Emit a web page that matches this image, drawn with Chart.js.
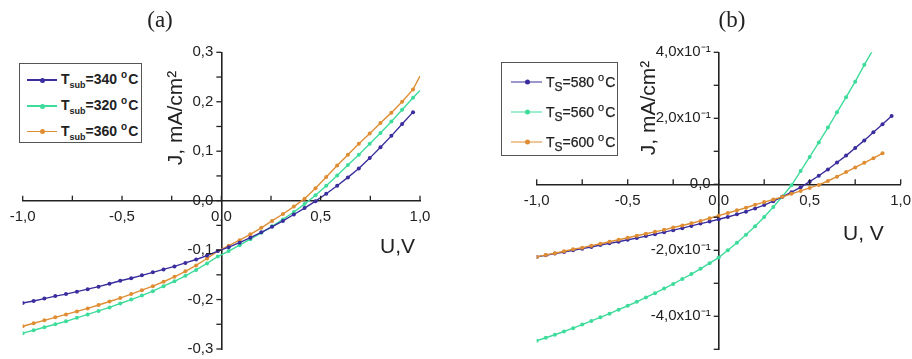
<!DOCTYPE html>
<html>
<head>
<meta charset="utf-8">
<script src="https://cdn.jsdelivr.net/npm/chart.js@4.4.0/dist/chart.umd.min.js"></script>
<style>
  html, body { margin: 0; padding: 0; background: #fff; }
  body { width: 912px; height: 359px; position: relative; overflow: hidden;
         font-family: 'Liberation Sans', Arial, sans-serif; color: #222; }
  canvas { position: absolute; top: 0; }
  #chartA { left: 0; }
  #chartB { left: 456px; }
  .title { position: absolute; top: 8px; font-family: 'Liberation Serif', 'Times New Roman', serif;
           font-size: 23px; line-height: 1; transform: translateX(-50%); }
  .ylabel { position: absolute; font-size: 21px; line-height: 1; white-space: nowrap;
            transform: translate(-50%, -50%) rotate(-90deg); }
  .xlabel { position: absolute; font-size: 21px; line-height: 1; white-space: nowrap; }
  .legend { position: absolute; border: 1px solid #555; background: #fff; }
  .row { position: absolute; display: flex; align-items: center; transform: translateY(-50%);
         white-space: nowrap; line-height: 1; }
  .sw { position: relative; height: 1.5px; margin-right: 4px; }
  .sw i { position: absolute; top: -1.75px; width: 5px; height: 5px; border-radius: 50%; }
  #legA .row { font-size: 14px; font-weight: bold; }
  #legA sub { font-size: 9px; vertical-align: -4px; }
  #legA sup { font-size: 10px; vertical-align: 6px; margin-right: 1px; }
  #legB .row { font-size: 14px; -webkit-text-stroke: 0.25px #222; }
  #legB sub { font-size: 12px; vertical-align: -4px; }
  #legB sup { font-size: 11px; vertical-align: 6px; margin-right: 1px; }
</style>
</head>
<body>
<canvas id="chartA" width="456" height="359"></canvas>
<canvas id="chartB" width="456" height="359"></canvas>

<div class="title" style="left:160px">(a)</div>
<div class="title" style="left:732px">(b)</div>
<div class="ylabel" style="left:174px; top:118px">J, mA/cm²</div>
<div class="ylabel" style="left:647px; top:108px">J, mA/cm²</div>
<div class="xlabel" style="left:380px; top:235px">U,V</div>
<div class="xlabel" style="left:843px; top:222px">U, V</div>

<div class="legend" id="legA" style="left:19px; top:63px; width:121px; height:78px"></div>
<div class="legend" id="legB" style="left:501px; top:62px; width:115px; height:92px"></div>

<script>
// Colours
const BLUE = '#3a2e9e';
const GREEN = '#3edc9b';
const ORANGE = '#df8d33';

// Panel (a): voltage, V
const uA = [-1.000, -0.945, -0.891, -0.836, -0.782, -0.727, -0.673, -0.618, -0.563, -0.509,
            -0.454, -0.400, -0.345, -0.291, -0.236, -0.181, -0.127, -0.072, -0.018, 0.037,
            0.092, 0.146, 0.201, 0.255, 0.310, 0.365, 0.419, 0.474, 0.528, 0.583,
            0.637, 0.692, 0.747, 0.801, 0.856, 0.910, 0.965, 1.000];

// Panel (a): current density, mA/cm2
const jA340 = [-0.207, -0.203, -0.198, -0.193, -0.189, -0.184, -0.179, -0.174, -0.168, -0.162,
               -0.157, -0.151, -0.145, -0.139, -0.133, -0.126, -0.119, -0.111, -0.102, -0.094,
               -0.085, -0.075, -0.064, -0.053, -0.041, -0.028, -0.015, -0.001, 0.014, 0.030,
               0.047, 0.065, 0.086, 0.108, 0.131, 0.155, 0.179];
const jA320 = [-0.268, -0.262, -0.256, -0.250, -0.244, -0.237, -0.230, -0.223, -0.216, -0.208,
               -0.200, -0.192, -0.183, -0.173, -0.163, -0.152, -0.140, -0.127, -0.113, -0.102,
               -0.090, -0.078, -0.065, -0.052, -0.038, -0.023, -0.007, 0.011, 0.030, 0.051,
               0.072, 0.093, 0.115, 0.137, 0.160, 0.184, 0.208, 0.223];
const jA360 = [-0.254, -0.248, -0.242, -0.236, -0.230, -0.224, -0.218, -0.211, -0.204, -0.197,
               -0.189, -0.181, -0.173, -0.164, -0.154, -0.143, -0.131, -0.117, -0.102, -0.091,
               -0.080, -0.068, -0.055, -0.041, -0.027, -0.012, 0.004, 0.025, 0.048, 0.071,
               0.093, 0.115, 0.136, 0.157, 0.178, 0.200, 0.225, 0.252];
const namesA = ['T<sub>sub</sub>=340 <sup>o</sup>C', 'T<sub>sub</sub>=320 <sup>o</sup>C', 'T<sub>sub</sub>=360 <sup>o</sup>C'];

// Panel (b): voltage, V
const uB = [-1.00, -0.95, -0.90, -0.85, -0.80, -0.75, -0.70, -0.65, -0.60, -0.55,
            -0.50, -0.45, -0.40, -0.35, -0.30, -0.25, -0.20, -0.15, -0.10, -0.05,
            0.00, 0.05, 0.10, 0.15, 0.20, 0.25, 0.30, 0.35, 0.40, 0.45,
            0.50, 0.55, 0.60, 0.65, 0.70, 0.75, 0.80, 0.85, 0.90, 0.95];

// Panel (b): current density, mA/cm2
const jB580 = [-0.220, -0.215, -0.210, -0.205, -0.200, -0.195, -0.190, -0.184, -0.179, -0.174,
               -0.168, -0.163, -0.157, -0.151, -0.145, -0.139, -0.133, -0.126, -0.119, -0.113,
               -0.106, -0.099, -0.091, -0.083, -0.073, -0.063, -0.051, -0.038, -0.024, -0.009,
               0.008, 0.026, 0.045, 0.066, 0.087, 0.110, 0.133, 0.158, 0.182, 0.207];
const jB560 = [-0.474, -0.465, -0.456, -0.446, -0.436, -0.425, -0.414, -0.403, -0.392, -0.380,
               -0.368, -0.356, -0.343, -0.330, -0.316, -0.302, -0.287, -0.272, -0.256, -0.239,
               -0.222, -0.200, -0.177, -0.153, -0.127, -0.099, -0.069, -0.037, -0.003, 0.040,
               0.083, 0.127, 0.172, 0.218, 0.264, 0.311, 0.362, 0.410];
const jB600 = [-0.220, -0.214, -0.209, -0.203, -0.197, -0.192, -0.186, -0.180, -0.174, -0.168,
               -0.162, -0.156, -0.150, -0.144, -0.138, -0.131, -0.125, -0.118, -0.111, -0.103,
               -0.095, -0.087, -0.079, -0.071, -0.062, -0.054, -0.046, -0.038, -0.029, -0.020,
               -0.011, -0.002, 0.010, 0.023, 0.037, 0.051, 0.065, 0.079, 0.094];
const namesB = ['T<sub>S</sub>=580 <sup>o</sup>C', 'T<sub>S</sub>=560 <sup>o</sup>C', 'T<sub>S</sub>=600 <sup>o</sup>C'];

// Helpers
const pts = (us, js) => js.map((j, i) => ({ x: us[i], y: j }));
const onStep = (v, step) => Math.abs(v / step - Math.round(v / step)) < 1e-6;
const comma = (v, d) => (Math.abs(v) < 1e-9 ? 0 : v).toFixed(d).replace('.', ',');
const fmtX = v => onStep(v, 0.5) ? comma(v, 1) : '';

function series(data, color, order, hideLast) {
  return {
    data: data,
    borderColor: color,
    backgroundColor: color,
    borderWidth: 1.4,
    pointRadius: ctx => (hideLast && ctx.dataIndex === data.length - 1) ? 0 : 2,
    pointBorderWidth: 0,
    pointBackgroundColor: color,
    tension: 0,
    order: order
  };
}

// Origin-style crossing axes: small inward ticks + labels drawn from the scales' own ticks
function crossTicks(fmtY) {
  return {
    id: 'crossTicks',
    afterDraw(chart) {
      const { ctx, scales: { x, y } } = chart;
      const x0 = x.getPixelForValue(0);
      const y0 = y.getPixelForValue(0);
      ctx.save();
      ctx.strokeStyle = '#222';
      ctx.fillStyle = '#222';
      ctx.lineWidth = 1.3;
      ctx.font = "15px 'Liberation Sans', Arial, sans-serif";
      x.ticks.forEach(t => {
        const px = x.getPixelForValue(t.value);
        ctx.beginPath(); ctx.moveTo(px, y0); ctx.lineTo(px, y0 - 5); ctx.stroke();
        const lbl = fmtX(t.value);
        if (lbl) { ctx.textAlign = 'center'; ctx.textBaseline = 'top'; ctx.fillText(lbl, px, y0 + 9); }
      });
      y.ticks.forEach(t => {
        const py = y.getPixelForValue(t.value);
        ctx.beginPath(); ctx.moveTo(x0, py); ctx.lineTo(x0 - 5, py); ctx.stroke();
        const lbl = fmtY(t.value);
        if (lbl) { ctx.textAlign = 'right'; ctx.textBaseline = 'middle'; ctx.fillText(lbl, x0 - 8, py); }
      });
      ctx.restore();
    }
  };
}

function axis(min, max, step, pos) {
  return {
    type: 'linear', min: min, max: max, position: pos,
    ticks: { stepSize: step, autoSkip: false, display: false },
    grid: { display: false },
    border: { display: true, color: '#222', width: 1.6 }
  };
}

function makeChart(id, datasets, yMin, yMax, yStep, fmtY, padding) {
  return new Chart(document.getElementById(id), {
    type: 'line',
    data: { datasets: datasets },
    options: {
      responsive: false,
      animation: false,
      events: [],
      layout: { padding: padding },
      plugins: { legend: { display: false }, tooltip: { enabled: false } },
      scales: { x: axis(-1, 1, 0.25, { y: 0 }), y: axis(yMin, yMax, yStep, { x: 0 }) }
    },
    plugins: [crossTicks(fmtY)]
  });
}

makeChart('chartA', [
  series(pts(uA, jA340), BLUE, 0, false),
  series(pts(uA, jA320), GREEN, 1, true),
  series(pts(uA, jA360), ORANGE, 2, true)
], -0.3, 0.3, 0.05, v => onStep(v, 0.1) ? comma(v, 1) : '',
{ left: 22.7, right: 36, top: 52.3, bottom: 10 });

makeChart('chartB', [
  series(pts(uB, jB580), BLUE, 1, false),
  series(pts(uB, jB560), GREEN, 2, false),
  series(pts(uB, jB600), ORANGE, 0, false)
], -0.5, 0.4, 0.1, v => !onStep(v, 0.2) ? '' : (Math.abs(v) < 1e-9 ? '0,0' : comma(v * 10, 1) + 'x10⁻¹'),
{ left: 80.7, right: 11.3, top: 52.3, bottom: 9.7 });

// Legends (HTML so the sub/superscripts stay real text)
function buildLegend(id, names, colors, box, rows, lineX, lineW, markX) {
  const el = document.getElementById(id);
  names.forEach((name, i) => {
    const row = document.createElement('div');
    row.className = 'row';
    row.style.left = (lineX - box.left) + 'px';
    row.style.top = (rows[i] - box.top) + 'px';
    row.innerHTML = `<span class="sw" style="width:${lineW}px;background:${colors[i]}">` +
      `<i style="left:${markX - lineX - 2.5}px;background:${colors[i]}"></i></span><span>${name}</span>`;
    el.appendChild(row);
  });
}

buildLegend('legA', namesA, [BLUE, GREEN, ORANGE], { left: 19, top: 63 }, [79, 105, 130.5], 26, 30, 41);
buildLegend('legB', namesB, [BLUE, GREEN, ORANGE], { left: 501, top: 62 }, [81, 111, 141], 510, 31, 526);
</script>
</body>
</html>
